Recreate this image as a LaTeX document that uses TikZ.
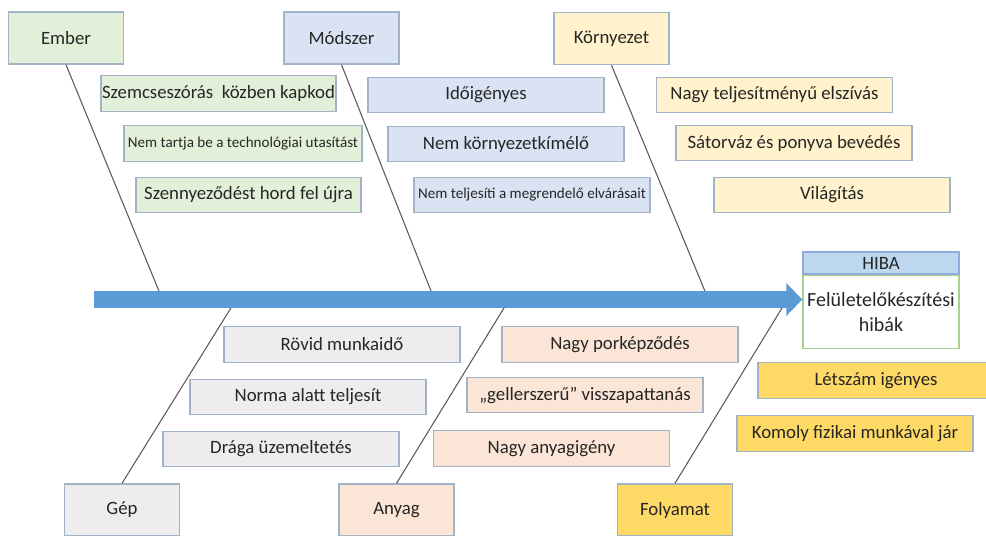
\documentclass[tikz,border=0pt]{standalone}
\usepackage{fontspec}
\setmainfont{Carlito}
\usepackage{tikz}
\usetikzlibrary{arrows.meta}
\definecolor{embbg}{RGB}{226,240,217}
\definecolor{modbg}{RGB}{218,227,243}
\definecolor{kornybg}{RGB}{255,242,204}
\definecolor{gepbg}{RGB}{237,237,237}
\definecolor{anyagbg}{RGB}{251,229,214}
\definecolor{folybg}{RGB}{255,217,102}
\definecolor{keret}{RGB}{163,179,198}
\definecolor{gerinc}{RGB}{91,155,213}
\definecolor{fejbg}{RGB}{189,215,238}
\definecolor{fejkeret}{RGB}{143,170,220}
\definecolor{hibakeret}{RGB}{169,209,142}
\definecolor{szalka}{RGB}{89,89,89}
\definecolor{betu}{RGB}{38,38,38}

\begin{document}
\begin{tikzpicture}[x=0.02cm, y=-0.02cm,
  every node/.style={font=\fontsize{10.7}{12.5}\selectfont, text=betu, inner sep=0pt},
  fo/.style={draw=keret, line width=0.8pt, minimum width=2.3cm, minimum height=1.04cm},
  ok/.style={draw=keret, line width=0.8pt, minimum width=4.72cm, minimum height=0.71cm},
  apro/.style={font=\fontsize{8.6}{10}\selectfont},
  bone/.style={draw=szalka, line width=0.6pt}]
\clip (0,0) rectangle (986,535);
% fejek
\node[fo, fill=embbg] (ember) at (66,38) {Ember};
\node[fo, fill=modbg] (modszer) at (341.5,38) {Módszer};
\node[fo, fill=kornybg] (kornyezet) at (611.5,38.5) {Környezet};
\node[fo, fill=gepbg] (gep) at (122,510) {Gép};
\node[fo, fill=anyagbg] (anyag) at (396.5,510) {Anyag};
\node[fo, fill=folybg] (folyamat) at (675,510) {Folyamat};
% okok
\node[ok, fill=embbg, minimum width=4.7cm] (e1) at (218.5,93.5) {Szemcseszórás\ \ közben kapkod};
\node[ok, fill=embbg, apro, minimum width=4.76cm] (e2) at (243,143.5) {Nem tartja be a technológiai utasítást};
\node[ok, fill=embbg, minimum width=4.5cm] (e3) at (248.5,195) {Szennyeződést hord fel újra};
\node[ok, fill=modbg] (m1) at (486,95) {Időigényes};
\node[ok, fill=modbg] (m2) at (506,144) {Nem környezetkímélő};
\node[ok, fill=modbg, apro] (m3) at (532,195) {Nem teljesíti a megrendelő elvárásait};
\node[ok, fill=kornybg] (k1) at (774.5,95) {Nagy teljesítményű elszívás};
\node[ok, fill=kornybg] (k2) at (794,143) {Sátorváz és ponyva bevédés};
\node[ok, fill=kornybg] (k3) at (832,195) {Világítás};
\node[ok, fill=gepbg] (g1) at (342,344.5) {Rövid munkaidő};
\node[ok, fill=gepbg] (g2) at (308,397) {Norma alatt teljesít};
\node[ok, fill=gepbg] (g3) at (281,449) {Drága üzemeltetés};
\node[ok, fill=anyagbg] (a1) at (620,344.5) {Nagy porképződés};
\node[ok, fill=anyagbg] (a2) at (585,395) {„gellerszerű” visszapattanás};
\node[ok, fill=anyagbg] (a3) at (551.5,448.5) {Nagy anyagigény};
\node[ok, fill=folybg] (f1) at (876,380.5) {Létszám igényes};
\node[ok, fill=folybg] (f2) at (855,433.5) {Komoly fizikai munkával jár};
% hiba
\node[draw=fejkeret, fill=fejbg, line width=0.8pt, minimum width=3.12cm, minimum height=0.44cm] (hibafej) at (881,263) {HIBA};
\node[draw=hibakeret, line width=0.8pt, minimum width=3.12cm, minimum height=1.46cm, align=center, anchor=north, font=\fontsize{11.4}{14}\selectfont] (hiba) at (hibafej.south) {Felületelőkészítési\\hibák};
% szalkak
\coordinate (farok) at (94,299.5);
\coordinate (ce) at (161,296);
\coordinate (cm) at (433,296);
\coordinate (ck) at (707,296);
\coordinate (cg) at (234,303);
\coordinate (ca) at (507,303);
\coordinate (cf) at (785,303);
\foreach \x/\y in {ember.south/ce,modszer.south/cm,kornyezet.south/ck,gep.north/cg,anyag.north/ca,folyamat.north/cf}
  \draw[bone] (\x) -- (\y);
\draw[gerinc, line width=0.34cm, -{Triangle[length=0.32cm, width=0.64cm]}] (farok) -- (farok -| hiba.west);
\end{tikzpicture}
\end{document}
